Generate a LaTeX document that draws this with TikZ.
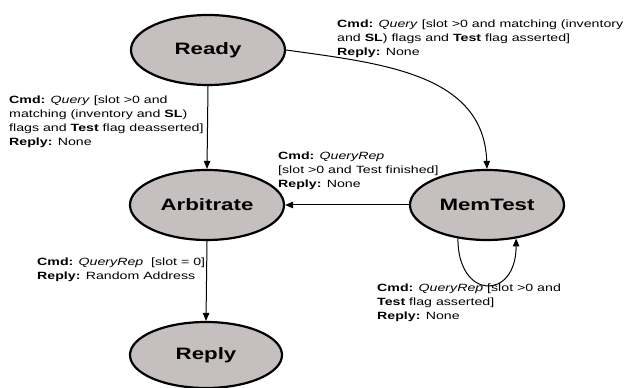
\documentclass[tikz,border=0pt]{standalone}
\usepackage{fontspec}
\setmainfont{Liberation Sans}[FakeStretch=1.35]
\usetikzlibrary{shapes.geometric,arrows.meta}
\definecolor{statefill}{RGB}{198,191,191}
\tikzset{
  state/.style={ellipse,draw=black,line width=2.2pt,fill=statefill,
    minimum width=154pt,minimum height=70pt,inner sep=0pt,
    font=\fontsize{16.5}{18}\selectfont\bfseries},
  lbl/.style={anchor=north west,align=left,inner sep=0pt,
    font=\fontsize{10.5}{14}\selectfont},
  conn/.style={draw=black,line width=1pt,-{Triangle[length=8pt,width=6.5pt]}}
}
\begin{document}
\begin{tikzpicture}[x=1pt,y=1pt]
\useasboundingbox[fill=white] (0,0) rectangle (632,388);
\node[state] (ready) at (208,338) {Ready};
\node[state] (arb) at (207,183) {Arbitrate};
\node[state] (mem) at (487,183) {MemTest};
\node[state,minimum width=152pt,minimum height=66pt] (reply) at (206,33) {Reply};

\draw[conn] (ready.south) -- (arb.north);
\draw[conn] (arb.south) -- (reply.north);
\draw[conn] (mem.west) -- (arb.east);
\draw[conn] (ready.east) to[out=-8,in=92,looseness=1.05] (mem.north);
\draw[conn] (mem.229) .. controls +(0,-62) and +(0,-62) .. (mem.311);

\node[lbl] (l1) at (337,368) {\textbf{Cmd:} \emph{Query} [slot >0 and matching (inventory\\and \textbf{SL}) flags and \textbf{Test} flag asserted]\\\textbf{Reply:} None};
\node[lbl] (l2) at (9,292) {\textbf{Cmd:} \emph{Query} [slot >0 and\\matching (inventory and \textbf{SL})\\flags and \textbf{Test} flag deasserted]\\\textbf{Reply:} None};
\node[lbl] (l3) at (278,236) {\textbf{Cmd:} \emph{QueryRep}\\{}[slot >0 and Test finished]\\\textbf{Reply:} None};
\node[lbl] (l4) at (37,130) {\textbf{Cmd:} \emph{QueryRep}\ \ [slot = 0]\\\textbf{Reply:} Random Address};
\node[lbl] (l5) at (377,104) {\textbf{Cmd:} \emph{QueryRep} [slot >0 and\\\textbf{Test} flag asserted]\\\textbf{Reply:} None};
\end{tikzpicture}
\end{document}
